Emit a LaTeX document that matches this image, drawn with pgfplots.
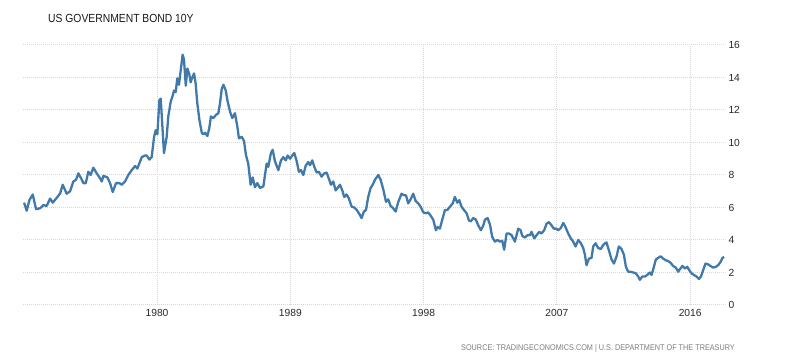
\documentclass[border=0pt]{standalone}
\usepackage{fontspec}
\setmainfont{Liberation Sans}
\newfontfamily\narrowfont[FakeStretch=0.88]{Liberation Sans}
\usepackage{pgfplots}
\pgfplotsset{compat=1.18}
\definecolor{linecol}{RGB}{64,121,170}
\definecolor{gridcol}{RGB}{215,215,215}
\definecolor{tickcol}{RGB}{40,40,40}
\definecolor{srccol}{RGB}{125,125,125}
\begin{document}
\begin{tikzpicture}
\path[use as bounding box] (0,0) rectangle (799bp,360bp);
\begin{axis}[
  at={(23bp,55bp)}, anchor=south west,
  scale only axis, width=702bp, height=260bp,
  xmin=1970.95, xmax=2018.35, ymin=0, ymax=16,
  axis line style={draw=none},
  xtick={1980,1989,1998,2007,2016},
  xticklabels={1980,1989,1998,2007,2016},
  ytick={0,2,4,6,8,10,12,14,16},
  yticklabels={0,2,4,6,8,10,12,14,16},
  yticklabel pos=right,
  major tick length=0pt,
  grid=major,
  major grid style={gridcol, line width=1bp, dash pattern=on 1bp off 1bp},
  tick label style={font=\fontsize{10.3}{12}\selectfont, text=tickcol},
  yticklabel style={anchor=west},
  xticklabel style={yshift=-1bp},
  clip=false,
]
\addplot[linecol, line width=2.3bp, line join=round] coordinates {
(1971.02,6.3)(1971.20,5.8)(1971.38,6.45)(1971.61,6.8)(1971.83,5.9)(1972.10,5.95)
(1972.33,6.15)(1972.55,6.1)(1972.78,6.55)(1972.96,6.3)(1973.23,6.6)(1973.45,6.85)
(1973.63,7.4)(1973.90,6.85)(1974.13,7.0)(1974.35,7.6)(1974.53,7.7)(1974.69,8.1)
(1974.87,7.8)(1975.03,7.5)(1975.19,7.5)(1975.36,8.2)(1975.52,8.0)(1975.70,8.45)
(1975.93,8.1)(1976.15,7.8)(1976.27,7.6)(1976.38,7.95)(1976.65,7.85)(1976.83,7.5)
(1977.01,6.95)(1977.23,7.5)(1977.46,7.5)(1977.62,7.4)(1977.84,7.6)(1978.06,8.0)
(1978.29,8.3)(1978.52,8.55)(1978.67,8.4)(1978.97,9.1)(1979.19,9.2)
(1979.30,9.2)(1979.48,8.95)(1979.64,9.1)(1979.80,10.35)(1979.91,10.75)(1980.02,10.5)
(1980.16,12.6)(1980.25,12.7)(1980.36,11.0)(1980.47,9.35)(1980.65,10.35)(1980.76,11.6)
(1980.92,12.5)(1981.03,12.8)(1981.15,13.2)(1981.26,13.1)(1981.37,13.95)(1981.48,13.55)
(1981.60,14.45)(1981.73,15.4)(1981.82,15.1)(1981.94,13.5)(1982.05,14.55)(1982.18,14.2)
(1982.27,13.7)(1982.38,14.0)(1982.50,14.25)(1982.61,13.6)(1982.72,12.4)(1982.86,11.4)
(1983.02,10.6)(1983.13,10.5)(1983.24,10.6)(1983.40,10.4)(1983.53,10.9)(1983.64,11.6)
(1983.80,11.5)(1983.98,11.7)(1984.14,11.8)(1984.25,12.4)(1984.37,13.3)(1984.48,13.55)
(1984.64,13.2)(1984.75,12.6)(1984.93,11.9)(1985.08,11.5)(1985.26,11.8)(1985.42,11.0)
(1985.53,10.25)(1985.72,10.35)(1985.87,10.1)(1986.01,9.2)(1986.16,8.7)(1986.32,7.4)
(1986.46,7.85)(1986.61,7.25)(1986.77,7.5)(1986.95,7.2)
(1987.18,7.3)(1987.40,8.7)(1987.51,8.5)(1987.69,9.35)(1987.81,9.55)(1987.96,8.85)
(1988.19,8.3)(1988.37,8.9)(1988.53,9.1)(1988.69,8.9)(1988.82,9.2)(1988.98,9.0)
(1989.13,9.2)(1989.27,9.35)(1989.43,8.85)(1989.58,8.2)(1989.72,8.3)(1989.88,8.0)
(1990.03,8.55)(1990.21,8.8)(1990.33,8.6)(1990.48,8.9)(1990.62,8.5)(1990.78,8.15)
(1990.93,8.2)(1991.11,7.9)(1991.29,8.1)(1991.45,8.15)(1991.61,7.75)(1991.74,7.4)
(1991.90,7.6)(1992.06,7.05)(1992.19,7.2)(1992.35,7.4)(1992.51,7.05)(1992.64,6.65)
(1992.80,6.8)(1992.96,6.55)(1993.14,6.05)(1993.32,6.0)(1993.48,5.85)(1993.63,5.65)
(1993.81,5.35)(1993.97,5.75)(1994.11,5.85)(1994.26,6.65)(1994.42,7.2)
(1994.56,7.4)(1994.71,7.7)(1994.94,8.0)(1995.10,7.7)(1995.28,7.1)(1995.46,6.35)
(1995.61,6.5)(1995.77,6.1)(1995.95,5.95)(1996.11,5.75)(1996.29,6.35)(1996.51,6.85)
(1996.67,6.75)(1996.81,6.75)(1996.96,6.25)(1997.12,6.5)(1997.30,6.85)(1997.46,6.4)
(1997.64,6.25)(1997.80,6.05)(1997.98,5.7)(1998.16,5.65)(1998.31,5.7)(1998.47,5.5)
(1998.65,5.25)(1998.83,4.6)(1998.94,4.8)(1999.10,4.7)(1999.26,5.25)(1999.44,5.85)
(1999.60,5.85)(1999.78,6.05)(1999.96,6.25)(2000.11,6.65)(2000.27,6.3)(2000.41,6.45)
(2000.56,6.05)(2000.72,5.85)(2000.90,5.65)(2001.06,5.2)(2001.19,5.15)(2001.35,5.35)
(2001.53,5.25)(2001.69,4.9)(2001.87,4.6)(2002.03,4.9)
(2002.14,5.25)(2002.32,5.35)(2002.48,4.95)(2002.63,4.2)(2002.81,3.9)(2002.99,4.0)
(2003.15,3.9)(2003.31,3.95)(2003.44,3.4)(2003.60,4.4)(2003.76,4.4)(2003.94,4.3)
(2004.16,3.9)(2004.39,4.7)(2004.55,4.6)(2004.66,4.25)(2004.84,4.15)(2005.02,4.3)
(2005.18,4.3)(2005.29,4.5)(2005.47,4.1)(2005.63,4.3)(2005.81,4.5)(2005.96,4.4)
(2006.14,4.6)(2006.30,5.0)(2006.46,5.1)(2006.64,4.9)(2006.79,4.7)(2006.95,4.7)
(2007.09,4.6)(2007.27,4.75)(2007.43,5.05)(2007.58,4.8)(2007.76,4.4)(2007.94,4.1)
(2008.10,3.9)(2008.26,3.6)(2008.44,4.0)(2008.62,3.8)(2008.78,3.5)(2008.89,3.1)
(2009.00,2.45)(2009.16,2.85)(2009.34,2.9)(2009.45,3.6)(2009.61,3.8)(2009.79,3.5)
(2009.97,3.45)(2010.13,3.7)
(2010.24,3.8)(2010.35,3.85)(2010.53,3.3)(2010.69,2.8)(2010.85,2.55)(2011.03,3.0)
(2011.18,3.6)(2011.36,3.45)(2011.52,3.1)(2011.66,2.35)(2011.81,2.05)(2011.97,2.05)
(2012.15,2.0)(2012.33,1.95)(2012.49,1.75)(2012.60,1.55)(2012.76,1.75)(2012.94,1.75)
(2013.10,1.85)(2013.28,2.0)(2013.39,1.85)(2013.55,2.35)(2013.68,2.8)(2013.84,2.9)
(2014.00,3.0)(2014.18,2.85)(2014.36,2.75)(2014.52,2.7)(2014.67,2.6)(2014.85,2.4)
(2015.03,2.3)(2015.19,2.05)(2015.30,2.2)(2015.48,2.4)(2015.64,2.25)(2015.80,2.35)
(2015.93,2.15)(2016.09,1.95)(2016.25,1.85)(2016.43,1.75)(2016.59,1.6)(2016.72,1.75)
(2016.88,2.15)(2017.03,2.55)(2017.21,2.5)(2017.37,2.4)(2017.55,2.3)(2017.73,2.35)
(2017.89,2.45)(2018.05,2.65)(2018.18,2.9)(2018.30,2.95)
};
\end{axis}
\node[anchor=base west, inner sep=0, font=\narrowfont\fontsize{11.8}{13}\selectfont, text=black!90] at (48bp,337.6bp) {US GOVERNMENT BOND 10Y};
\node[anchor=base east, inner sep=0, font=\narrowfont\fontsize{8.3}{10}\selectfont, text=srccol] at (735bp,10bp) {SOURCE: TRADINGECONOMICS.COM | U.S. DEPARTMENT OF THE TREASURY};
\end{tikzpicture}
\end{document}
